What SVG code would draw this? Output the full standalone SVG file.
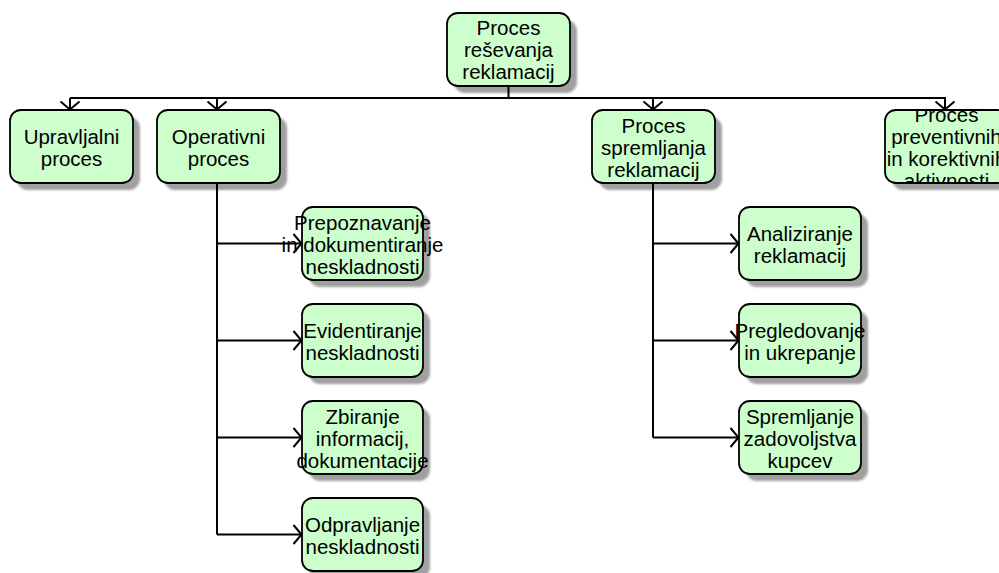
<svg xmlns="http://www.w3.org/2000/svg" width="999" height="573" viewBox="0 0 999 573">
  <style>
    .box { fill: #ccffcc; stroke: #000; stroke-width: 1.8; }
    .shadow { fill: #a0a0a0; filter: url(#soft); }
    .lbl { font-family: "Liberation Sans", Arial, sans-serif; font-size: 20.5px; fill: #000; text-anchor: middle; }
    .wire { fill: none; stroke: #000; stroke-width: 2; }
  </style>
  <defs>
    <filter id="soft" x="-10%" y="-10%" width="120%" height="120%">
      <feGaussianBlur stdDeviation="0.8"/>
    </filter>
    <marker id="open" markerUnits="userSpaceOnUse" viewBox="-10 -11 12 22" markerWidth="12" markerHeight="22" refX="0" refY="0" orient="auto">
      <path d="M-8,-9.5 L0,0 L-8,9.5" fill="none" stroke="#000" stroke-width="2"/>
    </marker>
    <clipPath id="clip-prev">
      <rect x="840" y="110" width="170" height="73"/>
    </clipPath>
  </defs>

  <rect width="999" height="573" fill="#fff"/>

  <!-- root process -->
  <g id="root">
    <rect class="shadow" x="454" y="20" width="123" height="73" rx="11"/>
    <rect class="box" x="447" y="13" width="123" height="73" rx="11"/>
    <text class="lbl" x="508.5" y="35">Proces</text>
    <text class="lbl" x="508.5" y="57">reševanja</text>
    <text class="lbl" x="508.5" y="79">reklamacij</text>
  </g>

  <!-- first level -->
  <g id="upravljalni">
    <rect class="shadow" x="17" y="117" width="123" height="73" rx="11"/>
    <rect class="box" x="10" y="110" width="123" height="73" rx="11"/>
    <text class="lbl" x="71.5" y="143.5">Upravljalni</text>
    <text class="lbl" x="71.5" y="165.5">proces</text>
  </g>

  <g id="operativni">
    <rect class="shadow" x="164" y="117" width="123" height="73" rx="11"/>
    <rect class="box" x="157" y="110" width="123" height="73" rx="11"/>
    <text class="lbl" x="218.5" y="143.5">Operativni</text>
    <text class="lbl" x="218.5" y="165.5">proces</text>
  </g>

  <g id="spremljanje">
    <rect class="shadow" x="599" y="117" width="123" height="73" rx="11"/>
    <rect class="box" x="592" y="110" width="123" height="73" rx="11"/>
    <text class="lbl" x="653.5" y="132.5">Proces</text>
    <text class="lbl" x="653.5" y="154.5">spremljanja</text>
    <text class="lbl" x="653.5" y="176.5">reklamacij</text>
  </g>

  <g id="preventivni">
    <rect class="shadow" x="892" y="117" width="123" height="73" rx="11"/>
    <rect class="box" x="885" y="110" width="123" height="73" rx="11"/>
    <g clip-path="url(#clip-prev)">
      <text class="lbl" x="946.5" y="121.5">Proces</text>
      <text class="lbl" x="946.5" y="143.5">preventivnih</text>
      <text class="lbl" x="946.5" y="165.5">in korektivnih</text>
      <text class="lbl" x="946.5" y="187.5">aktivnosti</text>
    </g>
  </g>

  <!-- operational sub-steps -->
  <g id="prepoznavanje">
    <rect class="shadow" x="309" y="214" width="121" height="73" rx="11"/>
    <rect class="box" x="302" y="207" width="121" height="73" rx="11"/>
    <text class="lbl" x="362.5" y="229.5">Prepoznavanje</text>
    <text class="lbl" x="362.5" y="251.5">in dokumentiranje</text>
    <text class="lbl" x="362.5" y="273.5">neskladnosti</text>
  </g>

  <g id="evidentiranje">
    <rect class="shadow" x="309" y="311" width="121" height="73" rx="11"/>
    <rect class="box" x="302" y="304" width="121" height="73" rx="11"/>
    <text class="lbl" x="362.5" y="337.5">Evidentiranje</text>
    <text class="lbl" x="362.5" y="359.5">neskladnosti</text>
  </g>

  <g id="zbiranje">
    <rect class="shadow" x="309" y="408" width="121" height="73" rx="11"/>
    <rect class="box" x="302" y="401" width="121" height="73" rx="11"/>
    <text class="lbl" x="362.5" y="423.5">Zbiranje</text>
    <text class="lbl" x="362.5" y="445.5">informacij,</text>
    <text class="lbl" x="362.5" y="467.5">dokumentacije</text>
  </g>

  <g id="odpravljanje">
    <rect class="shadow" x="309" y="505" width="121" height="73" rx="11"/>
    <rect class="box" x="302" y="498" width="121" height="73" rx="11"/>
    <text class="lbl" x="362.5" y="531.5">Odpravljanje</text>
    <text class="lbl" x="362.5" y="553.5">neskladnosti</text>
  </g>

  <!-- monitoring sub-steps -->
  <g id="analiziranje">
    <rect class="shadow" x="746" y="214" width="122" height="73" rx="11"/>
    <rect class="box" x="739" y="207" width="122" height="73" rx="11"/>
    <text class="lbl" x="800" y="240.5">Analiziranje</text>
    <text class="lbl" x="800" y="262.5">reklamacij</text>
  </g>

  <g id="pregledovanje">
    <rect class="shadow" x="746" y="311" width="122" height="73" rx="11"/>
    <rect class="box" x="739" y="304" width="122" height="73" rx="11"/>
    <text class="lbl" x="800" y="337.5">Pregledovanje</text>
    <text class="lbl" x="800" y="359.5">in ukrepanje</text>
  </g>

  <g id="zadovoljstvo">
    <rect class="shadow" x="746" y="408" width="122" height="73" rx="11"/>
    <rect class="box" x="739" y="401" width="122" height="73" rx="11"/>
    <text class="lbl" x="800" y="423.5">Spremljanje</text>
    <text class="lbl" x="800" y="445.5">zadovoljstva</text>
    <text class="lbl" x="800" y="467.5">kupcev</text>
  </g>

  <!-- connectors -->
  <g id="connectors">
    <path class="wire" d="M508.5,86 V98 M70,98 H946"/>
    <path class="wire" d="M70,98 V109.5" marker-end="url(#open)"/>
    <path class="wire" d="M217,98 V109.5" marker-end="url(#open)"/>
    <path class="wire" d="M653,98 V109.5" marker-end="url(#open)"/>
    <path class="wire" d="M945,98 V109.5" marker-end="url(#open)"/>

    <path class="wire" d="M217,183 V534.5"/>
    <path class="wire" d="M217,243.5 H301.5" marker-end="url(#open)"/>
    <path class="wire" d="M217,340.5 H301.5" marker-end="url(#open)"/>
    <path class="wire" d="M217,437.5 H301.5" marker-end="url(#open)"/>
    <path class="wire" d="M217,534.5 H301.5" marker-end="url(#open)"/>

    <path class="wire" d="M653,183 V437.5"/>
    <path class="wire" d="M653,243.5 H738.5" marker-end="url(#open)"/>
    <path class="wire" d="M653,340.5 H738.5" marker-end="url(#open)"/>
    <path class="wire" d="M653,437.5 H738.5" marker-end="url(#open)"/>
  </g>
</svg>
